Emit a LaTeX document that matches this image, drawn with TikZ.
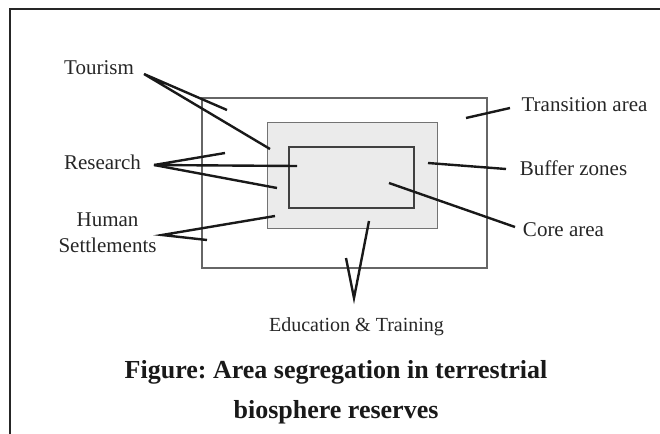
\documentclass[tikz,border=0pt]{standalone}
\usepackage{fontspec}
\setmainfont{Liberation Serif}
\usetikzlibrary{positioning}
\frenchspacing

\begin{document}
\begin{tikzpicture}[x=1pt, y=-1pt,
  zone/.style={draw=black!60, line width=1.1pt, inner sep=0pt},
  bufzone/.style={draw=black!55, fill=black!8, line width=1pt, inner sep=0pt},
  corezone/.style={draw=black!75, line width=2.8pt, inner sep=0pt},
  lbl/.style={font=\fontsize{21}{26}\selectfont, text=black!85, inner sep=0pt, align=center},
  ptr/.style={line width=2.4pt, black!90},
  caption/.style={font=\fontsize{26}{40}\selectfont\bfseries, text=black!90, inner sep=0pt}
]
\useasboundingbox (0,0) rectangle (660,433);

% page frame
\draw[line width=2.8pt, black!85] (10,440) -- (10,9) -- (670,9);

% Zones
\node[zone, minimum width=285pt, minimum height=170pt] (trans) at (344.5,183) {};
\node[bufzone, minimum width=170pt, minimum height=106pt] (buf) at (352,175) {};
\node[corezone, minimum width=125pt, minimum height=61pt] (core) at (351.5,177.5) {};

% Labels
\node[lbl, anchor=base] (tourism) at (99,75) {Tourism};
\node[lbl, anchor=base] (research) at (102.5,169) {Research};
\node[lbl] (settle) at (107.5,233) {Human\\Settlements};
\node[lbl, anchor=base] (translbl) at (584.5,111) {Transition area};
\node[lbl, anchor=base] (buflbl) at (573.5,175) {Buffer zones};
\node[lbl, anchor=base] (corelbl) at (563.5,236) {Core area};
\node[lbl, anchor=base, font=\fontsize{20}{24}\selectfont] (edu) at (356.5,331) {Education \& Training};

% Caption
\node[caption, anchor=base] (cap1) at (336,378) {Figure: Area segregation in terrestrial};
\node[caption, anchor=base] (cap2) at (336,418) {biosphere reserves};

% Pointer ends
\coordinate (tourism-tip) at (144,74);
\coordinate (tourism-a) at (227,110);
\coordinate (tourism-b) at (270,149);
\coordinate (research-tip) at (154,165);
\coordinate (research-a) at (225,153);
\coordinate (research-b) at (297,166);
\coordinate (research-c) at (277,188);
\coordinate (settle-tip) at (162,235);
\coordinate (settle-a) at (275,216);
\coordinate (settle-b) at (207,240);
\coordinate (trans-tip) at (510,108);
\coordinate (trans-a) at (466,118);
\coordinate (buf-tip) at (506,169);
\coordinate (buf-a) at (428,163);
\coordinate (core-tip) at (515,227);
\coordinate (core-a) at (389,183);
\coordinate (edu-tip) at (354,298);
\coordinate (edu-a) at (369,221);
\coordinate (edu-b) at (346,258);

% Pointers
\draw[ptr] (tourism-a) -- (tourism-tip) -- (tourism-b);
\draw[ptr] (research-a) -- (research-tip) -- (research-b);
\draw[ptr] (research-tip) -- (research-c);
\draw[ptr] (settle-a) -- (settle-tip) -- (settle-b);
\draw[ptr] (trans-tip) -- (trans-a);
\draw[ptr] (buf-tip) -- (buf-a);
\draw[ptr] (core-tip) -- (core-a);
\draw[ptr] (edu-a) -- (edu-tip) -- (edu-b);

\end{tikzpicture}
\end{document}
